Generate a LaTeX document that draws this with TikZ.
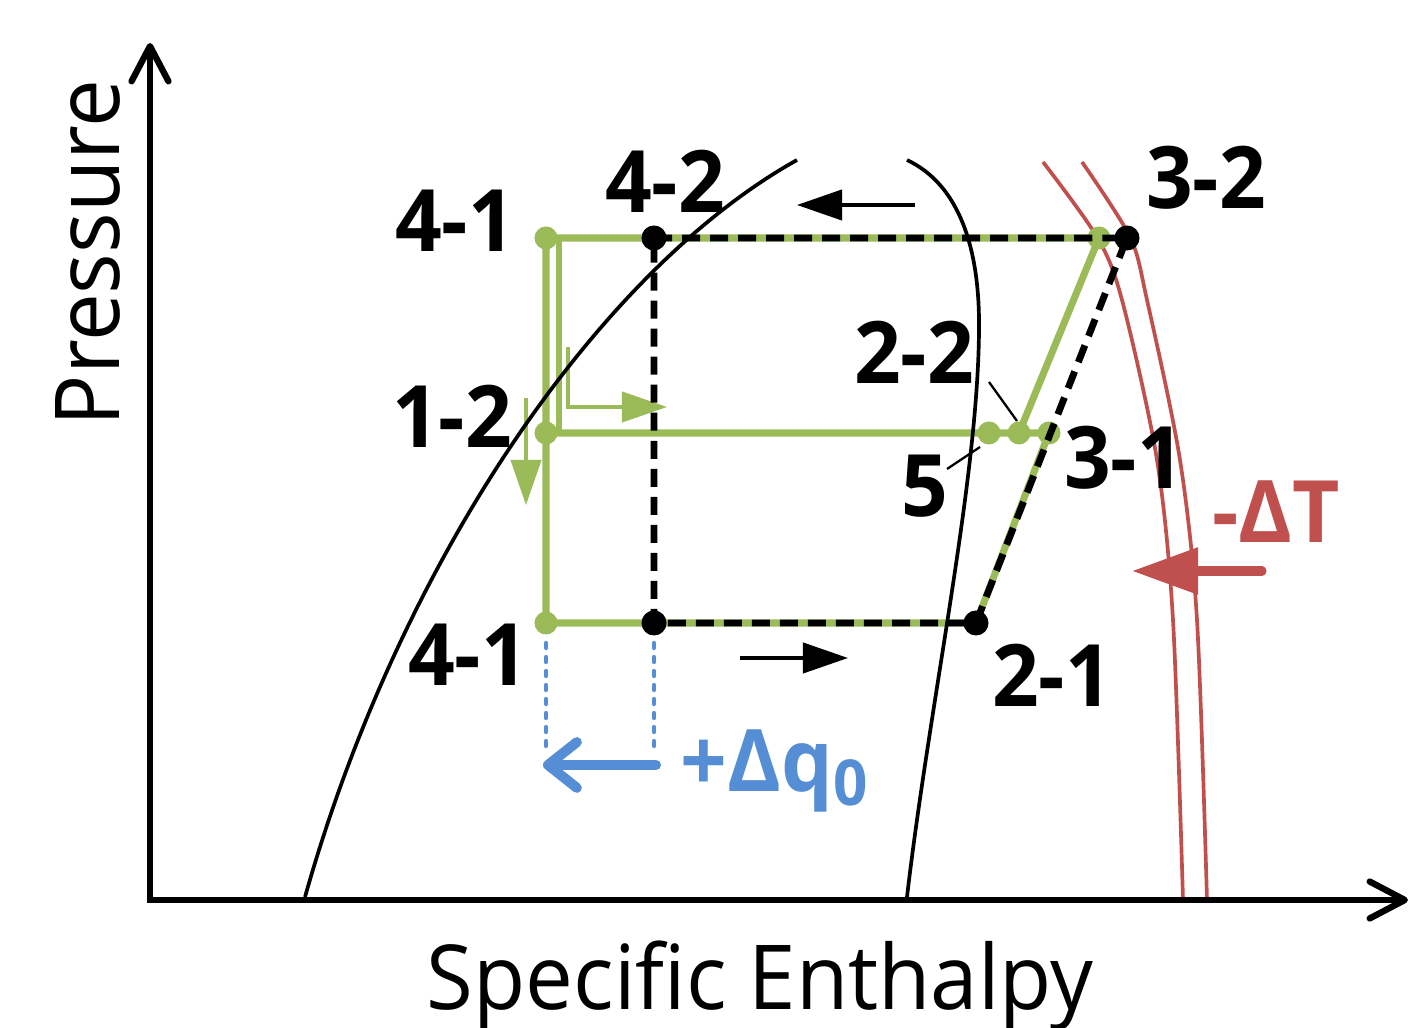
\documentclass[tikz,border=0pt]{standalone}
\usepackage{fontspec}
\setmainfont{Open Sans}
\usetikzlibrary{arrows.meta}
\definecolor{cgreen}{HTML}{9BBB59}
\definecolor{cred}{HTML}{C0504D}
\definecolor{cblue}{HTML}{558ED5}
\newcommand{\sx}[1]{\scalebox{0.95}[1]{#1}}
\begin{document}
\begin{tikzpicture}[x=0.01cm,y=-0.01cm,
  lab/.style={inner sep=0pt, font=\fontsize{24.5}{24.5}\selectfont\bfseries},
  axislbl/.style={inner sep=0pt, font=\fontsize{25.5}{25.5}\selectfont},
  gdot/.style={circle, fill=cgreen, inner sep=0pt, minimum size=0.23cm},
  bdot/.style={circle, fill=black, inner sep=0pt, minimum size=0.25cm},
  axis/.style={line width=1.8pt, line cap=round,
    {Straight Barb[length=10pt,width=10.5pt,line cap=round,line join=round]}-{Straight Barb[length=10pt,width=10.5pt,line cap=round,line join=round]}},
  greenline/.style={cgreen, line width=2pt},
  greenline2/.style={cgreen, line width=1.5pt},
  greenthin/.style={cgreen, line width=0.95pt, -{Triangle[length=12.8pt,width=8.6pt]}},
  blackdash/.style={black, line width=1.95pt, dash pattern=on 0.18cm off 0.1cm},
  dome/.style={black, line width=1.05pt},
  iso/.style={cred, line width=1.05pt},
  pointer/.style={black, line width=0.65pt},
  flowarrow/.style={black, line width=0.95pt, -{Triangle[length=12.8pt,width=8.6pt]}},
  redarrow/.style={cred, line width=2.6pt, line cap=round, -{Triangle[length=18.8pt,width=12.8pt]}},
  bluearrow/.style={cblue, line width=2.85pt, line cap=round, -{Straight Barb[length=8.2pt,width=13pt,line cap=round,line join=round]}},
  bluedot/.style={cblue, line width=1.2pt, line cap=round, dash pattern=on 0.05cm off 0.09cm}
]
\useasboundingbox (0,0) rectangle (1411,1028);
% coordinates
\coordinate (O) at (150,900);
\coordinate (Ytip) at (150,43);
\coordinate (Xtip) at (1408,900);
\coordinate (G41t) at (546,238);
\coordinate (G12) at (546,433);
\coordinate (G41b) at (546,623);
\coordinate (G32) at (1099,238);
\coordinate (G5) at (989,433);
\coordinate (G22) at (1019,433);
\coordinate (G31) at (1049,433);
\coordinate (B42) at (654,238);
\coordinate (B32) at (1127,238);
\coordinate (B41) at (654,623);
\coordinate (B21) at (976,623);
\coordinate (V2top) at (559,240);
\coordinate (V2bot) at (559,433);
% isotherms
\draw[iso] plot[smooth] coordinates {(1043,162) (1097,237) (1122,300) (1157,460) (1173,620) (1183,900)};
\draw[iso] plot[smooth] coordinates {(1082,162) (1130,237) (1147,300) (1180,460) (1197,620) (1207,900)};
% axes
\draw[axis] (Ytip) -- (O) -- (Xtip);
% green cycle
\draw[greenline] (G41t) -- (G32) -- (G22);
\draw[greenline] (G41t) -- (G41b) -- (B21) -- (G31) -- (G12);
\draw[greenline2] (V2top) -- (V2bot);
% small green arrows
\coordinate (ga1s) at (568,347);
\coordinate (ga1c) at (568,407);
\coordinate (ga1e) at (667,407);
\draw[greenthin] (ga1s) -- (ga1c) -- (ga1e);
\coordinate (ga2s) at (526,398);
\coordinate (ga2e) at (526,505);
\draw[greenthin] (ga2s) -- (ga2e);
% dome
\draw[dome] (305,897) .. controls (400,560) and (600,270) .. (797,160);
\draw[dome] (907,160) .. controls (960,185) and (980,250) .. (979,330) .. controls (978,480) and (930,700) .. (907,897);
% green dots
\foreach \p in {G41t,G12,G41b,G32,G5,G22,G31} \node[gdot] (n\p) at (\p) {};
% black dashed cycle
\draw[blackdash] (B42) -- (B32) -- (B21) -- (B41) -- (B42);
\foreach \p in {B42,B32,B41,B21} \node[bdot] (n\p) at (\p) {};
% flow arrows
\coordinate (fa1s) at (915,205);
\coordinate (fa1e) at (797,205);
\draw[flowarrow] (fa1s) -- (fa1e);
\coordinate (fa2s) at (740,658);
\coordinate (fa2e) at (848,658);
\draw[flowarrow] (fa2s) -- (fa2e);
% pointers
\coordinate (p22) at (989,382);
\draw[pointer] (p22) -- (1017,421);
\coordinate (p5) at (947,469);
\draw[pointer] (p5) -- (980,447);
% blue
\coordinate (bl1) at (546,643);
\coordinate (bl1e) at (546,753);
\coordinate (bl2) at (654,643);
\coordinate (bl2e) at (654,753);
\draw[bluedot] (bl1) -- (bl1e);
\draw[bluedot] (bl2) -- (bl2e);
\coordinate (baS) at (656,765);
\coordinate (baE) at (543,765);
\draw[bluearrow] (baS) -- (baE);
\node[lab, text=cblue, anchor=base west] (dq) at (680,792) {\sx{+Δq\raisebox{-3.7pt}{\fontsize{18}{18}\selectfont 0}}};
% red
\coordinate (raS) at (1262,571);
\coordinate (raE) at (1132,571);
\draw[redarrow] (raS) -- (raE);
\node[lab, text=cred] (dT) at (1276,512) {\sx{-ΔT}};
% labels
\node[lab] (l41t) at (455,221) {\sx{4-1}};
\node[lab] (l42) at (665,181) {\sx{4-2}};
\node[lab] (l32) at (1206,178) {\sx{3-2}};
\node[lab] (l22) at (914,352) {\sx{2-2}};
\node[lab] (l12) at (452,416) {\sx{1-2}};
\node[lab] (l5) at (925,486) {\sx{5}};
\node[lab] (l31) at (1124,458) {\sx{3-1}};
\node[lab] (l41b) at (468,655) {\sx{4-1}};
\node[lab] (l21) at (1052,675) {\sx{2-1}};
% axis labels
\node[axislbl, rotate=90, anchor=base] (py) at (120,253) {\sx{Pressure}};
\node[axislbl, anchor=base] (hx) at (760,1010) {\sx{Specific Enthalpy}};
\end{tikzpicture}
\end{document}
